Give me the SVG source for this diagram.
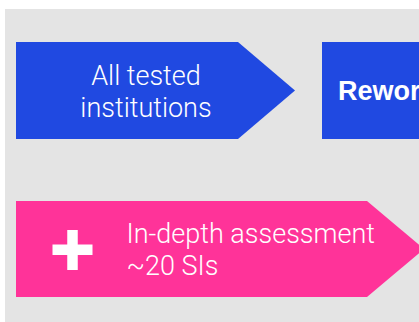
<svg xmlns="http://www.w3.org/2000/svg" width="419" height="322" viewBox="0 0 419 322">
  <style>
    .light { font-family: Roboto, "Liberation Sans", sans-serif; font-weight: 300; fill: #ffffff; font-size: 27px; }
    .bold { font-family: "Liberation Sans", Arial, sans-serif; font-weight: 700; fill: #ffffff; font-size: 27px; }
    .blue { fill: #2049E1; }
    .pink { fill: #FF3399; }
  </style>
  <rect x="0" y="0" width="419" height="322" fill="#ffffff"/>
  <rect x="5" y="9" width="414" height="313" fill="#E4E4E4"/>

  <g id="all-tested">
    <polygon class="blue" points="16,42 238,42 295,90.5 238,139 16,139"/>
    <text class="light" x="146" y="84.5" text-anchor="middle">All tested</text>
    <text class="light" x="146" y="116.5" text-anchor="middle">institutions</text>
  </g>

  <g id="rework">
    <rect class="blue" x="322" y="42" width="110" height="97"/>
    <text class="bold" x="338" y="100">Rework</text>
  </g>

  <g id="in-depth">
    <polygon class="pink" points="16,201 367,201 424,249 367,297 16,297"/>
    <g fill="#ffffff">
      <rect x="52.5" y="244.5" width="40" height="10.5"/>
      <rect x="67.25" y="230" width="10.5" height="40"/>
    </g>
    <text class="light" x="126.5" y="242.5">In-depth assessment</text>
    <text class="light" x="126.5" y="274.5">~20 SIs</text>
  </g>

  <g id="connectors"/>
</svg>
